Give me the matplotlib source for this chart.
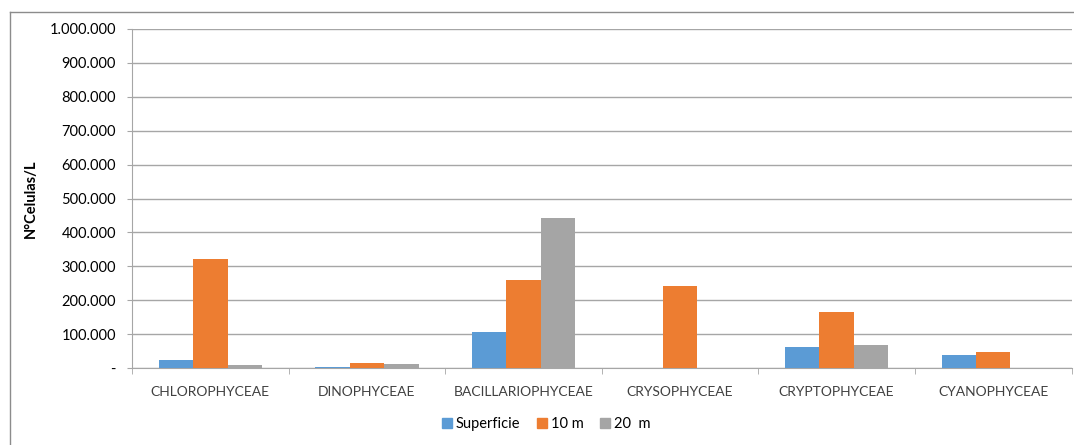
import matplotlib.pyplot as plt
import numpy as np
from matplotlib.lines import Line2D
from matplotlib.ticker import FuncFormatter

# cell counts per class and depth
classes = ['CHLOROPHYCEAE', 'DINOPHYCEAE', 'BACILLARIOPHYCEAE',
           'CRYSOPHYCEAE', 'CRYPTOPHYCEAE', 'CYANOPHYCEAE']
superficie = [25000, 4000, 107000, 0, 63000, 37000]
m10 = [322000, 16000, 260000, 242000, 166000, 48000]
m20 = [10000, 13000, 442000, 0, 69000, 0]
series_names = ['Superficie', '10 m', '20  m']

BLUE = '#5B9BD5'
ORANGE = '#ED7D31'
GRAY = '#A5A5A5'
GRID = '#A6A6A6'
TEXT = '#404040'

plt.rcParams['font.family'] = ['Lato', 'DejaVu Sans']

fig = plt.figure(figsize=(10.74, 4.45), dpi=100, facecolor='w')
ax = fig.add_axes([132 / 1074, 1 - 368 / 445, (1071.5 - 132) / 1074, (368 - 29) / 445])

x = np.arange(len(classes))
w = 0.22
for off, vals, col, name in zip((-w, 0, w), (superficie, m10, m20),
                                (BLUE, ORANGE, GRAY), series_names):
    ax.bar(x + off, vals, width=w, color=col, label=name, zorder=3)

ax.set_xlim(-0.5, len(classes) - 0.5)
ax.set_ylim(0, 1000000)
ax.set_yticks(np.arange(0, 1000001, 100000))


def fmt(v, pos):
    if v == 0:
        return '-'
    return f'{int(v):,}'.replace(',', '.')


ax.yaxis.set_major_formatter(FuncFormatter(fmt))
ax.set_xticks(x)
ax.set_xticklabels(classes)
ax.set_xticks(np.arange(-0.5, len(classes)), minor=True)
ax.tick_params(axis='x', which='major', length=0, pad=13, labelsize=10, colors=TEXT)
ax.tick_params(axis='x', which='minor', length=4, color=GRID, direction='out')
ax.tick_params(axis='y', length=3.6, color=GRID, pad=8, labelsize=10.5, labelcolor='#000000')

ax.grid(axis='y', color=GRID, lw=1, zorder=0)
for s in ('top', 'right'):
    ax.spines[s].set_visible(False)
ax.spines['left'].set_color(GRID)
ax.spines['bottom'].set_color(GRID)

ax.set_ylabel('N°Celulas/L', fontsize=10.5, fontweight='bold')
ax.yaxis.set_label_coords((38 - 132) / 939.5, 0.5)

handles = [Line2D([], [], marker='s', ls='none', color=c, markersize=7)
           for c in (BLUE, ORANGE, GRAY)]
fig.legend(handles, series_names, loc='center', bbox_to_anchor=(545 / 1074, 1 - 424 / 445),
           ncol=3, frameon=False, fontsize=10.5, handletextpad=0.1, columnspacing=1.0,
           handlelength=1.0)

# outer chart frame (left and top edges)
fig.add_artist(Line2D([10 / 1074, 10 / 1074], [0, 1 - 12 / 445], color='#8C8C8C', lw=1,
                      transform=fig.transFigure))
fig.add_artist(Line2D([10 / 1074, 1], [1 - 12 / 445, 1 - 12 / 445], color='#8C8C8C', lw=1,
                      transform=fig.transFigure))

plt.savefig('out.png', dpi=100, facecolor='w')
